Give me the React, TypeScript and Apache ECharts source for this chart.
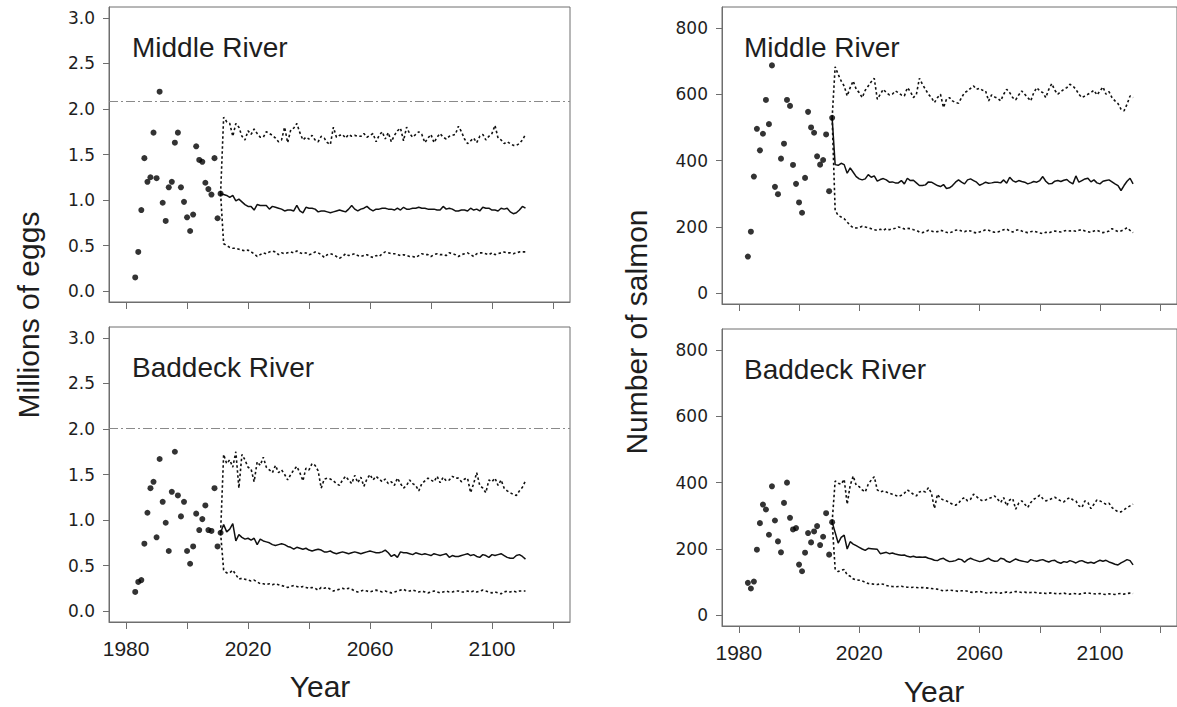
import React, { useEffect, useRef } from "react";
import * as echarts from "echarts";

// ---------- data ----------
const OBS_START = 1983;
const PROJ_START = 2011;
const X_MIN = 1974.4;
const X_MAX = 2125.6;
const X_TICKS = [1980, 2000, 2020, 2040, 2060, 2080, 2100, 2120];
const X_LABELS = [1980, 2020, 2060, 2100];
const EGG_TICKS = [0, 0.5, 1, 1.5, 2, 2.5, 3];
const SALMON_TICKS = [0, 200, 400, 600, 800];
const REF_MIDDLE_EGGS = 2.08;
const REF_BADDECK_EGGS = 2.01;

// observed (1983-2011)
const obsMiddleEggs = [0.15, 0.43, 0.89, 1.46, 1.2, 1.25, 1.74, 1.24, 2.19, 0.97, 0.77, 1.14, 1.2, 1.63, 1.74, 1.14, 0.98, 0.81, 0.66, 0.84, 1.59, 1.44, 1.42, 1.19, 1.12, 1.06, 1.46, 0.8, 1.07];
const obsBaddeckEggs = [0.21, 0.32, 0.34, 0.74, 1.08, 1.35, 1.42, 0.81, 1.67, 1.2, 0.97, 0.66, 1.31, 1.75, 1.27, 1.04, 1.2, 0.66, 0.52, 0.71, 1.07, 0.89, 1.01, 1.16, 0.89, 0.88, 1.35, 0.71, 0.86];
const obsMiddleSalmon = [111, 186, 352, 496, 431, 481, 583, 510, 687, 321, 299, 406, 451, 583, 565, 387, 330, 274, 243, 348, 547, 500, 484, 413, 388, 402, 479, 308, 529];
const obsBaddeckSalmon = [98, 81, 102, 198, 278, 334, 319, 243, 389, 286, 223, 190, 339, 400, 294, 259, 263, 153, 133, 189, 248, 220, 253, 269, 212, 237, 308, 183, 281];

// projections (2011-2111): median, upper, lower
const medMiddleEggs = [
  1.07, 1.06, 1.05, 1.03, 1.05, 0.99, 1.01, 0.98, 0.95, 0.93,
  0.93, 0.89, 0.95, 0.94, 0.94, 0.94, 0.9, 0.93, 0.92, 0.91,
  0.9, 0.88, 0.89, 0.89, 0.88, 0.94, 0.88, 0.86, 0.92, 0.91,
  0.91, 0.9, 0.87, 0.88, 0.88, 0.87, 0.86, 0.87, 0.88, 0.89,
  0.88, 0.87, 0.9, 0.94, 0.9, 0.88, 0.9, 0.91, 0.93, 0.9,
  0.88, 0.9, 0.9, 0.91, 0.91, 0.9, 0.9, 0.89, 0.91, 0.89,
  0.92, 0.9, 0.9, 0.91, 0.91, 0.92, 0.91, 0.91, 0.9, 0.9,
  0.9, 0.89, 0.89, 0.93, 0.9, 0.91, 0.9, 0.88, 0.88, 0.89,
  0.89, 0.88, 0.91, 0.89, 0.9, 0.88, 0.92, 0.91, 0.91, 0.89,
  0.89, 0.88, 0.91, 0.9, 0.91, 0.87, 0.85, 0.86, 0.89, 0.93,
  0.91,
];
const upMiddleEggs = [
  1.07, 1.91, 1.86, 1.84, 1.7, 1.84, 1.8, 1.7, 1.66, 1.76,
  1.72, 1.78, 1.73, 1.69, 1.69, 1.75, 1.73, 1.71, 1.68, 1.64,
  1.66, 1.8, 1.63, 1.77, 1.79, 1.84, 1.74, 1.66, 1.69, 1.67,
  1.71, 1.66, 1.64, 1.7, 1.68, 1.63, 1.61, 1.8, 1.69, 1.71,
  1.72, 1.68, 1.72, 1.7, 1.71, 1.7, 1.7, 1.73, 1.69, 1.71,
  1.73, 1.64, 1.71, 1.75, 1.67, 1.74, 1.64, 1.71, 1.76, 1.79,
  1.65, 1.8, 1.73, 1.69, 1.72, 1.75, 1.72, 1.63, 1.68, 1.72,
  1.63, 1.69, 1.73, 1.69, 1.67, 1.7, 1.71, 1.72, 1.81, 1.75,
  1.67, 1.62, 1.65, 1.68, 1.63, 1.7, 1.72, 1.66, 1.7, 1.73,
  1.82, 1.68, 1.66, 1.62, 1.64, 1.62, 1.6, 1.6, 1.62, 1.66,
  1.72,
];
const lowMiddleEggs = [
  1.07, 0.52, 0.5, 0.48, 0.47, 0.47, 0.46, 0.45, 0.44, 0.45,
  0.43, 0.41, 0.38, 0.4, 0.42, 0.41, 0.43, 0.44, 0.43, 0.4,
  0.42, 0.41, 0.42, 0.43, 0.42, 0.44, 0.42, 0.41, 0.42, 0.4,
  0.41, 0.43, 0.42, 0.4, 0.37, 0.4, 0.41, 0.4, 0.38, 0.36,
  0.38, 0.41, 0.39, 0.4, 0.41, 0.39, 0.38, 0.39, 0.4, 0.38,
  0.37, 0.39, 0.38, 0.41, 0.43, 0.42, 0.41, 0.41, 0.4, 0.39,
  0.4, 0.39, 0.38, 0.38, 0.37, 0.39, 0.41, 0.4, 0.4, 0.38,
  0.4, 0.41, 0.4, 0.4, 0.39, 0.42, 0.41, 0.4, 0.38, 0.4,
  0.41, 0.42, 0.4, 0.38, 0.41, 0.42, 0.42, 0.41, 0.4, 0.42,
  0.4, 0.41, 0.42, 0.43, 0.42, 0.42, 0.41, 0.42, 0.43, 0.43,
  0.43,
];
const medBaddeckEggs = [
  0.86, 0.95, 0.87, 0.9, 0.96, 0.77, 0.84, 0.81, 0.79, 0.8,
  0.78, 0.8, 0.73, 0.79, 0.77, 0.76, 0.75, 0.73, 0.72, 0.73,
  0.74, 0.73, 0.71, 0.7, 0.68, 0.7, 0.69, 0.68, 0.69, 0.67,
  0.66, 0.67, 0.68, 0.67, 0.65, 0.65, 0.66, 0.64, 0.63, 0.64,
  0.65, 0.64, 0.63, 0.64, 0.65, 0.64, 0.63, 0.64, 0.65, 0.66,
  0.65, 0.64, 0.64, 0.65, 0.67, 0.64, 0.6, 0.62, 0.59, 0.65,
  0.64, 0.64, 0.63, 0.62, 0.64, 0.63, 0.62, 0.63, 0.62, 0.61,
  0.63, 0.62, 0.61, 0.62, 0.63, 0.59, 0.61, 0.6, 0.6, 0.61,
  0.62, 0.63, 0.61, 0.62, 0.6, 0.59, 0.62, 0.61, 0.59, 0.62,
  0.61, 0.62, 0.63, 0.61, 0.59, 0.58, 0.58, 0.61, 0.62, 0.6,
  0.57,
];
const upBaddeckEggs = [
  0.86, 1.72, 1.62, 1.66, 1.58, 1.75, 1.35, 1.72, 1.66, 1.58,
  1.56, 1.42, 1.64, 1.6, 1.69, 1.58, 1.55, 1.52, 1.6, 1.52,
  1.55, 1.5, 1.44, 1.5, 1.55, 1.59, 1.52, 1.43, 1.57, 1.55,
  1.62, 1.6, 1.54, 1.35, 1.45, 1.46, 1.45, 1.43, 1.4, 1.38,
  1.44, 1.48, 1.44, 1.4, 1.49, 1.41, 1.47, 1.37, 1.45, 1.5,
  1.44, 1.48, 1.45, 1.42, 1.45, 1.4, 1.42, 1.38, 1.46, 1.4,
  1.35, 1.38, 1.44, 1.4, 1.38, 1.32, 1.4, 1.43, 1.46, 1.44,
  1.42, 1.48, 1.41, 1.47, 1.43, 1.44, 1.48, 1.46, 1.46, 1.42,
  1.45, 1.46, 1.3, 1.4, 1.52, 1.38, 1.35, 1.3, 1.44, 1.42,
  1.46, 1.38, 1.44, 1.35, 1.32, 1.3, 1.28, 1.27, 1.32, 1.36,
  1.43,
];
const lowBaddeckEggs = [
  0.86, 0.45, 0.42, 0.42, 0.45, 0.4, 0.35, 0.36, 0.35, 0.34,
  0.33, 0.34, 0.32, 0.3, 0.3, 0.29, 0.3, 0.29, 0.3, 0.29,
  0.28, 0.27, 0.26, 0.27, 0.28, 0.27, 0.26, 0.27, 0.26, 0.25,
  0.26, 0.25, 0.23, 0.26, 0.25, 0.26, 0.24, 0.22, 0.23, 0.24,
  0.25, 0.24, 0.25, 0.24, 0.22, 0.21, 0.22, 0.23, 0.22, 0.21,
  0.22, 0.23, 0.22, 0.21, 0.22, 0.21, 0.2, 0.21, 0.22, 0.23,
  0.24, 0.22, 0.22, 0.23, 0.22, 0.21, 0.22, 0.21, 0.2, 0.21,
  0.22, 0.21, 0.2, 0.21, 0.22, 0.21, 0.21, 0.22, 0.22, 0.21,
  0.21, 0.22, 0.21, 0.22, 0.21, 0.22, 0.23, 0.22, 0.21, 0.2,
  0.21, 0.2, 0.19, 0.21, 0.22, 0.21, 0.22, 0.21, 0.22, 0.22,
  0.22,
];
const medMiddleSalmon = [
  529, 388, 386, 392, 388, 362, 378, 365, 352, 345,
  342, 345, 358, 350, 354, 338, 343, 346, 342, 335,
  336, 333, 333, 340, 330, 347, 340, 341, 333, 325,
  325, 327, 336, 335, 330, 325, 322, 328, 316, 318,
  325, 335, 342, 335, 330, 342, 345, 340, 335, 326,
  330, 335, 332, 333, 335, 335, 333, 342, 332, 350,
  340, 335, 340, 337, 335, 330, 333, 337, 335, 340,
  352, 338, 330, 331, 338, 340, 337, 341, 343, 335,
  330, 354, 335, 340, 345, 347, 336, 342, 333, 330,
  338, 340, 342, 336, 330, 325, 310, 325, 338, 347,
  330,
];
const upMiddleSalmon = [
  529, 683, 660, 640, 625, 595, 620, 640, 615, 605,
  590, 612, 625, 638, 648, 585, 600, 615, 605, 598,
  600, 610, 605, 598, 595, 620, 608, 590, 600, 648,
  630, 615, 600, 590, 575, 590, 600, 560, 585, 590,
  580, 575, 573, 590, 605, 610, 618, 625, 615, 618,
  612, 610, 580, 598, 592, 588, 580, 600, 615, 605,
  590, 583, 598, 610, 600, 590, 580, 605, 620, 610,
  605, 590, 615, 632, 612, 600, 608, 615, 620, 630,
  625, 615, 600, 590, 595, 600, 605, 612, 598, 610,
  622, 600, 608, 590, 580, 572, 555, 550, 570, 595,
  590,
];
const lowMiddleSalmon = [
  529, 250, 235, 230, 225, 215, 205, 198, 197, 198,
  202, 200, 198, 195, 192, 190, 193, 190, 195, 192,
  194, 196, 200, 198, 194, 196, 195, 192, 190, 185,
  183, 186, 190, 188, 185, 186, 190, 188, 184, 182,
  186, 190, 192, 188, 186, 190, 188, 184, 182, 185,
  188, 192, 190, 186, 184, 185, 188, 192, 194, 188,
  185, 190, 192, 188, 185, 183, 186, 188, 185, 182,
  180, 184, 182, 186, 188, 186, 185, 188, 190, 188,
  189, 187, 190, 192, 188, 186, 184, 188, 190, 186,
  183, 185, 188, 195, 190, 186, 188, 192, 198, 190,
  183,
];
const medBaddeckSalmon = [
  281, 250, 218, 235, 242, 200, 222, 215, 210, 205,
  200, 196, 202, 201, 200, 199, 186, 188, 190, 186,
  188, 185, 183, 181, 182, 178, 176, 178, 175, 176,
  175, 176, 172, 170, 166, 165, 170, 172, 166, 162,
  163, 165, 170, 168, 160, 168, 172, 168, 165, 162,
  164, 168, 172, 166, 163, 164, 172, 170, 163, 160,
  165, 170, 166, 164, 162, 160, 168, 165, 163, 166,
  168, 164, 161, 165, 166, 160, 157, 162, 160, 165,
  162, 158, 163, 165, 161, 158, 160, 157, 162, 166,
  163, 166, 161, 158, 154, 152, 158, 163, 168, 165,
  152,
];
const upBaddeckSalmon = [
  281, 405, 398, 395, 410, 335, 392, 420, 392, 388,
  378, 372, 395, 408, 418, 378, 372, 375, 372, 368,
  365, 362, 358, 362, 368, 378, 372, 365, 360, 372,
  375, 372, 385, 368, 322, 365, 352, 348, 345, 340,
  335, 332, 338, 350, 355, 345, 350, 365, 358, 350,
  345, 348, 352, 355, 360, 350, 340, 355, 330, 348,
  352, 320, 338, 345, 335, 325, 340, 350, 355, 362,
  352, 345, 348, 352, 356, 350, 345, 342, 350, 355,
  348, 345, 330, 325, 345, 340, 322, 335, 348, 345,
  340, 335, 338, 325, 318, 312, 312, 318, 325, 330,
  335,
];
const lowBaddeckSalmon = [
  281, 140, 132, 136, 138, 122, 118, 110, 107, 106,
  104, 100, 96, 95, 94, 93, 95, 94, 90, 88,
  87, 86, 87, 88, 86, 85, 84, 85, 84, 83,
  84, 83, 82, 81, 80, 79, 76, 74, 75, 76,
  75, 74, 72, 74, 75, 73, 70, 69, 71, 72,
  70, 68, 67, 69, 70, 68, 67, 69, 70, 68,
  70, 72, 71, 69, 70, 68, 69, 70, 68, 67,
  68, 66, 67, 68, 66, 65, 66, 67, 65, 64,
  66, 65, 64, 66, 67, 68, 66, 65, 64, 66,
  64, 63, 65, 64, 63, 65, 66, 64, 66, 67,
  66,
];

// ---------- helpers ----------
const pairs = (start: number, vals: number[]) => vals.map((v, i) => [start + i, v]);

const TEXT = "#1e1e1e";
const AXIS = "#6e6e6e";
const FONT = '"Liberation Sans", Arial, sans-serif';

type Panel = {
  grid: { left: number; top: number; width: number; height: number };
  obs: number[];
  med: number[];
  up: number[];
  low: number[];
  yMin: number;
  yMax: number;
  yTicks: number[];
  decimals: number;
  ref?: number;
  showXLabels: boolean;
};

const panels: Panel[] = [
  { grid: { left: 109, top: 7, width: 461, height: 295 }, obs: obsMiddleEggs, med: medMiddleEggs, up: upMiddleEggs, low: lowMiddleEggs, yMin: -0.12, yMax: 3.12, yTicks: EGG_TICKS, decimals: 1, ref: REF_MIDDLE_EGGS, showXLabels: false },
  { grid: { left: 109, top: 327, width: 461, height: 295 }, obs: obsBaddeckEggs, med: medBaddeckEggs, up: upBaddeckEggs, low: lowBaddeckEggs, yMin: -0.12, yMax: 3.12, yTicks: EGG_TICKS, decimals: 1, ref: REF_BADDECK_EGGS, showXLabels: true },
  { grid: { left: 722, top: 7, width: 463, height: 297 }, obs: obsMiddleSalmon, med: medMiddleSalmon, up: upMiddleSalmon, low: lowMiddleSalmon, yMin: -32, yMax: 863, yTicks: SALMON_TICKS, decimals: 0, showXLabels: false },
  { grid: { left: 722, top: 329, width: 463, height: 297 }, obs: obsBaddeckSalmon, med: medBaddeckSalmon, up: upBaddeckSalmon, low: lowBaddeckSalmon, yMin: -32, yMax: 863, yTicks: SALMON_TICKS, decimals: 0, showXLabels: true },
];

const titles = [
  { text: "Middle River", x: 132, y: 47 },
  { text: "Baddeck River", x: 132, y: 367 },
  { text: "Middle River", x: 744, y: 47 },
  { text: "Baddeck River", x: 744, y: 369 },
];

function buildOption() {
  const grid = panels.map((p) => ({
    ...p.grid,
    show: true,
    borderColor: AXIS,
    borderWidth: 1,
    backgroundColor: "transparent",
  }));
  const xAxis = panels.map((p, i) => ({
    type: "value",
    gridIndex: i,
    min: X_MIN,
    max: X_MAX,
    splitLine: { show: false },
    axisLine: { show: true, onZero: false, lineStyle: { color: AXIS, width: 1 } },
    axisTick: { show: true, length: 7, customValues: X_TICKS, lineStyle: { color: AXIS } },
    axisLabel: {
      show: p.showXLabels,
      customValues: X_LABELS,
      fontSize: 21,
      fontFamily: FONT,
      color: TEXT,
      margin: 16,
      formatter: (v: number) => String(v),
    },
  }));
  const yAxis = panels.map((p, i) => ({
    type: "value",
    gridIndex: i,
    min: p.yMin,
    max: p.yMax,
    splitLine: { show: false },
    axisLine: { show: true, onZero: false, lineStyle: { color: AXIS, width: 1 } },
    axisTick: { show: true, length: 6, customValues: p.yTicks, lineStyle: { color: AXIS } },
    axisLabel: {
      customValues: p.yTicks,
      fontSize: 17,
      fontFamily: '"DejaVu Sans", sans-serif',
      color: TEXT,
      margin: 14,
      padding: [5, 0, 0, 0],
      formatter: (v: number) => v.toFixed(p.decimals),
    },
  }));
  const series: any[] = [];
  panels.forEach((p, i) => {
    series.push({
      type: "scatter",
      xAxisIndex: i,
      yAxisIndex: i,
      data: pairs(OBS_START, p.obs),
      symbol: "circle",
      symbolSize: 6,
      itemStyle: { color: "#000" },
      z: 4,
      markLine: p.ref !== undefined
        ? {
            silent: true,
            symbol: ["none", "none"],
            label: { show: false },
            lineStyle: { color: "#8a8a8a", width: 1, type: [9, 3, 2, 3] },
            data: [{ yAxis: p.ref }],
          }
        : undefined,
    });
    series.push({
      type: "line",
      xAxisIndex: i,
      yAxisIndex: i,
      data: pairs(PROJ_START, p.med),
      symbol: "none",
      lineStyle: { color: "#111", width: 1.5 },
      z: 3,
    });
    [p.up, p.low].forEach((vals) =>
      series.push({
        type: "line",
        xAxisIndex: i,
        yAxisIndex: i,
        data: pairs(PROJ_START, vals),
        symbol: "none",
        lineStyle: { color: "#111", width: 1.6, type: [2.5, 2.5] },
        z: 3,
      })
    );
  });

  const graphicEls: any[] = titles.map((t) => ({
    type: "text",
    x: t.x,
    y: t.y,
    style: {
      text: t.text,
      font: `28px ${FONT}`,
      fill: TEXT,
      align: "left",
      verticalAlign: "middle",
      textAlign: "left",
      textVerticalAlign: "middle",
    },
  }));
  const axisTitle = (text: string, x: number, y: number, rot: number) => ({
    type: "text",
    x,
    y,
    rotation: rot,
    style: {
      text,
      font: `30px ${FONT}`,
      fill: TEXT,
      align: "center",
      verticalAlign: "middle",
      textAlign: "center",
      textVerticalAlign: "middle",
    },
  });
  graphicEls.push(axisTitle("Millions of eggs", 28, 315, Math.PI / 2));
  graphicEls.push(axisTitle("Number of salmon", 636, 332, Math.PI / 2));
  graphicEls.push(axisTitle("Year", 320, 686, 0));
  graphicEls.push(axisTitle("Year", 934, 691, 0));

  return {
    animation: false,
    backgroundColor: "#fff",
    grid,
    xAxis,
    yAxis,
    series,
    graphic: { elements: graphicEls },
  };
}

export default function App() {
  const ref = useRef<HTMLDivElement>(null);
  useEffect(() => {
    document.body.style.margin = "0";
    const chart = echarts.init(ref.current!, undefined, { renderer: "svg" });
    chart.setOption(buildOption() as any);
    return () => chart.dispose();
  }, []);
  return <div ref={ref} style={{ width: 1177, height: 707, overflow: "hidden" }} />;
}
